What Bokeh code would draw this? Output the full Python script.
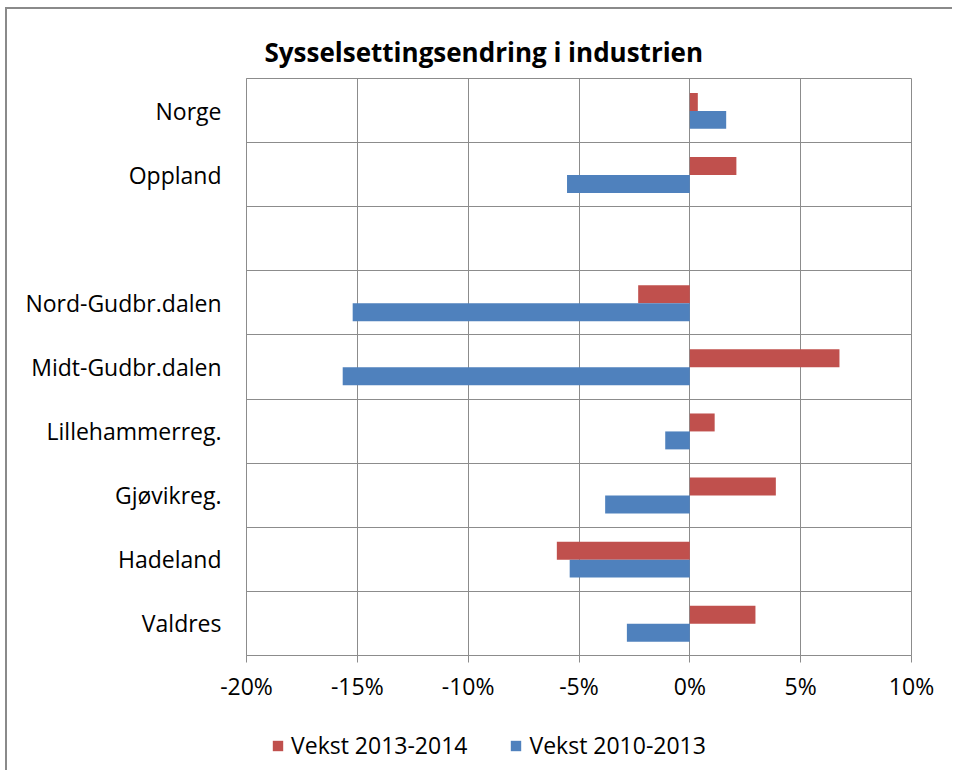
from bokeh.plotting import figure
from bokeh.layouts import column
from bokeh.models import FixedTicker, Legend, LegendItem, ColumnDataSource, Range1d
from bokeh.embed import file_html
from bokeh.resources import INLINE

# ---- data (percent) ----
categories = ["Norge", "Oppland", "", "Nord-Gudbr.dalen", "Midt-Gudbr.dalen",
              "Lillehammerreg.", "Gjøvikreg.", "Hadeland", "Valdres"]
vekst_2013_2014 = [0.36, 2.1, None, -2.33, 6.75, 1.12, 3.88, -6.0, 2.96]
vekst_2010_2013 = [1.64, -5.54, None, -15.21, -15.66, -1.11, -3.82, -5.42, -2.84]
x_ticks = [-20, -15, -10, -5, 0, 5, 10]
x_tick_labels = ["-20%", "-15%", "-10%", "-5%", "0%", "5%", "10%"]
series_names = ["Vekst 2013-2014", "Vekst 2010-2013"]
title_text = "Sysselsettingsendring i industrien"

RED = "#C0504D"
BLUE = "#4F81BD"
GRID = "#8c8c8c"
FONT = "Open Sans"

n = len(categories)
pos = [n - 1 - i for i in range(n)]  # top category at highest y


def make_source(vals, offset):
    ys, xs = [], []
    for p_, v in zip(pos, vals):
        if v is not None:
            ys.append(p_ + offset)
            xs.append(v)
    return ColumnDataSource(dict(y=ys, right=xs))


src_red = make_source(vekst_2013_2014, 0.135)
src_blue = make_source(vekst_2010_2013, -0.145)

p = figure(width=945, height=706, output_backend="svg", toolbar_location=None,
           x_range=Range1d(x_ticks[0], x_ticks[-1]), y_range=Range1d(-0.5, n - 0.5),
           min_border_left=239, min_border_right=41, min_border_top=69, min_border_bottom=60)
p.background_fill_color = "white"
p.border_fill_color = "white"
p.outline_line_color = GRID
p.outline_line_width = 1

r_red = p.hbar(y="y", left=0, right="right", height=0.28, source=src_red,
               fill_color=RED, line_color=None)
r_blue = p.hbar(y="y", left=0, right="right", height=0.28, source=src_blue,
                fill_color=BLUE, line_color=None)

# title
p.title.text = title_text
p.title.align = "left"
p.title.offset = 18
p.title.text_font = FONT
p.title.text_font_style = "bold"
p.title.text_font_size = "26px"
p.title.text_color = "#000000"
p.title.standoff = 18

# x axis
xa = p.xaxis[0]
xa.ticker = FixedTicker(ticks=x_ticks)
xa.major_label_overrides = {t: l for t, l in zip(x_ticks, x_tick_labels)}
xa.axis_line_color = GRID
xa.major_tick_line_color = GRID
xa.major_tick_out = 7
xa.major_tick_in = 0
xa.minor_tick_line_color = None
xa.major_label_standoff = 7
xa.major_label_text_font = FONT
xa.major_label_text_font_size = "23px"
xa.major_label_text_color = "#000000"

# y axis
ya = p.yaxis[0]
ya.ticker = FixedTicker(ticks=pos)
ya.major_label_overrides = {p_: c for p_, c in zip(pos, categories)}
ya.axis_line_color = GRID
ya.major_tick_line_color = None
ya.minor_tick_line_color = None
ya.major_tick_out = 0
ya.major_tick_in = 0
ya.major_label_standoff = 25
ya.major_label_text_font = FONT
ya.major_label_text_font_size = "23px"
ya.major_label_text_color = "#000000"

# grids
p.xgrid.grid_line_color = GRID
p.ygrid.grid_line_color = GRID
p.ygrid.ticker = FixedTicker(ticks=[k - 0.5 for k in range(n + 1)])

# legend strip below the chart (its ranges keep the bars out of view)
p2 = figure(width=945, height=55, output_backend="svg", toolbar_location=None,
            x_axis_type=None, y_axis_type=None,
            x_range=Range1d(1000, 1001), y_range=Range1d(1000, 1001),
            min_border_left=0, min_border_right=0, min_border_top=0, min_border_bottom=0)
p2.outline_line_color = None
p2.background_fill_color = "white"
p2.border_fill_color = "white"
p2.xgrid.visible = False
p2.ygrid.visible = False
l_red = p2.hbar(y="y", left=0, right="right", height=0.28, source=src_red,
                fill_color=RED, line_color=None)
l_blue = p2.hbar(y="y", left=0, right="right", height=0.28, source=src_blue,
                 fill_color=BLUE, line_color=None)

legend = Legend(items=[LegendItem(label=series_names[0], renderers=[l_red]),
                       LegendItem(label=series_names[1], renderers=[l_blue])],
                orientation="horizontal", location=(25, 9),
                border_line_color=None, background_fill_alpha=0,
                padding=0, margin=0, spacing=42, glyph_width=13, glyph_height=13,
                label_standoff=7, label_text_font=FONT, label_text_font_size="23px",
                label_text_color="#000000")
p2.add_layout(legend, "center")

layout = column(p, p2, spacing=0,
                styles={"border-left": "2px solid #8a8a8a", "border-top": "2px solid #8a8a8a",
                        "margin-left": "5px", "margin-top": "7px"})

open("out.html", "w").write(file_html(layout, INLINE))
